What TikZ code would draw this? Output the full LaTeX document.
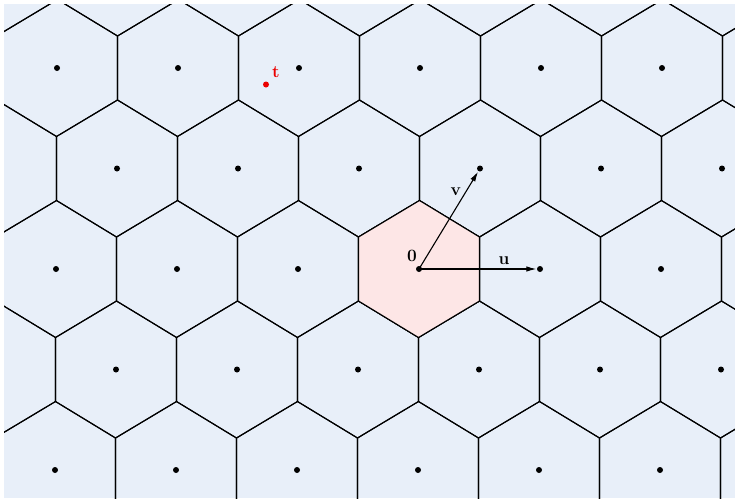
\documentclass[tikz,border=0pt]{standalone}
\usepackage{amsmath}
\usepackage{tikz}
\usetikzlibrary{arrows.meta}

\definecolor{cellblue}{RGB}{232,239,249}
\definecolor{cellpink}{RGB}{253,230,230}
\definecolor{ptred}{RGB}{235,0,0}

\tikzset{
  cell/.style={draw=black, line width=1.1pt, line join=miter},
  site/.style={circle, fill=black, inner sep=0pt, minimum size=6pt},
  vec/.style={-{Latex[length=10pt,width=5.5pt]}, line width=1.1pt, shorten >=0.5pt},
  lbl/.style={inner sep=0pt, font=\fontsize{16}{18}\selectfont}
}

\begin{document}
\begin{tikzpicture}[x=1pt,y=-1pt]

 % Frame of the picture
 \useasboundingbox (0,0) rectangle (735,498);
 \fill [cellblue] (4,4) rectangle (735,498);
 \clip (4,4) rectangle (735,498);

 % Voronoi cells of the lattice, u = (121,0), v = (61,100.5)
 \foreach \j in {-3,...,3} {
  \foreach \i in {-6,...,6} {
   \draw [cell, shift={({419+121*\i+61*\j},{269-100.5*\j})}]
     (60.5,-32) -- (0.5,-68.5) -- (-60.5,-32) -- (-60.5,32) -- (-0.5,68.5) -- (60.5,32) -- cycle;
  }
 }

 % Cell of the origin
 \filldraw [cell, fill=cellpink, shift={(419,269)}]
   (60.5,-32) -- (0.5,-68.5) -- (-60.5,-32) -- (-60.5,32) -- (-0.5,68.5) -- (60.5,32) -- cycle;

 % Lattice points
 \foreach \j in {-3,...,3} {
  \foreach \i in {-6,...,6} {
   \node [site] (s\i_\j) at ({419+121*\i+61*\j},{269-100.5*\j}) {};
  }
 }

 % Basis vectors
 \draw [vec] (s0_0.center) -- (s1_0);
 \draw [vec] (s0_0.center) -- (s0_1);
 \node [lbl] (zero) at (412,256) {$\mathbf{0}$};
 \node [lbl] (ulbl) at (504,261) {$\mathbf{u}$};
 \node [lbl] (vlbl) at (456,192) {$\mathbf{v}$};

 % Target point
 \node [site, fill=ptred] (tpt) at (266,84.5) {};
 \node [lbl, text=ptred] (tlbl) at (276,72) {$\mathbf{t}$};

\end{tikzpicture}
\end{document}
